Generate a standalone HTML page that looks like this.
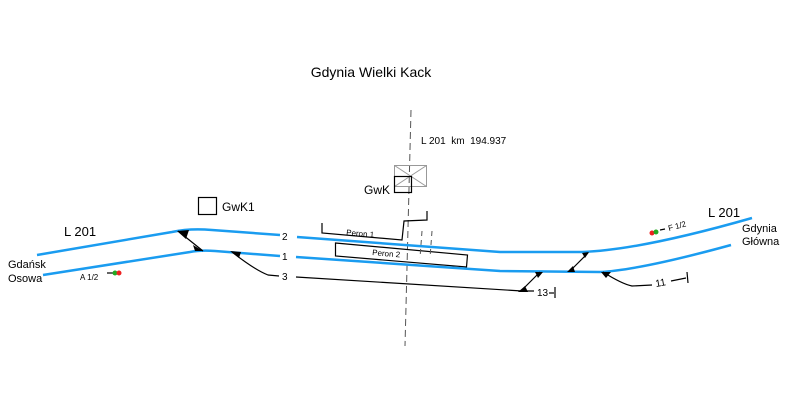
<!DOCTYPE html>
<html><head><meta charset="utf-8"><style>
html,body{margin:0;padding:0;background:#fff;}
svg{display:block;font-family:"Liberation Sans",sans-serif;}
</style></head><body>
<svg width="787" height="415" viewBox="0 0 787 415" xmlns="http://www.w3.org/2000/svg">
<rect width="787" height="415" fill="#fff"/>
<text x="371" y="77" font-size="14" text-anchor="middle" fill="#000">Gdynia Wielki Kack</text>
<line x1="411" y1="110" x2="405" y2="346" stroke="#555" stroke-width="1" stroke-dasharray="7,4"/>
<text x="421" y="144" font-size="10" fill="#000" xml:space="preserve">L 201  km  194.937</text>
<rect x="394.5" y="165.5" width="32" height="21" fill="none" stroke="#999" stroke-width="1"/>
<line x1="394.5" y1="165.5" x2="426.5" y2="186.5" stroke="#999"/>
<line x1="426.5" y1="165.5" x2="394.5" y2="186.5" stroke="#999"/>
<rect x="394.5" y="176.5" width="17" height="16" fill="none" stroke="#000" stroke-width="1.2"/>
<text x="364" y="194" font-size="12" fill="#000">GwK</text>
<rect x="198.5" y="197.5" width="18" height="17" fill="none" stroke="#000" stroke-width="1.2"/>
<text x="222" y="211" font-size="12" fill="#000">GwK1</text>
<polyline points="322,223 322,233 402,240 404,221 427,220 427,211" fill="none" stroke="#000" stroke-width="1.2"/>
<text x="346" y="235" font-size="8" fill="#000" transform="rotate(5 346 235)">Peron 1</text>
<polygon points="335.5,243 467.5,255 466.5,267 335.5,256" fill="none" stroke="#000" stroke-width="1.2"/>
<text x="372" y="255" font-size="8" fill="#000" transform="rotate(5 372 255)">Peron 2</text>
<line x1="422" y1="231" x2="420" y2="258" stroke="#555" stroke-dasharray="5,4"/>
<line x1="432" y1="231" x2="430" y2="258" stroke="#555" stroke-dasharray="5,4"/>
<g fill="none" stroke="#1a9cf0" stroke-width="2.5">
<path d="M37,255 L172,232 Q190,228 212,230 L280,235"/>
<path d="M297,237 L500,252 L582,252 Q640,250 752,218"/>
<path d="M43,275 L190,252 Q200,250 215,251 L280,256"/>
<path d="M296,257 L500,271 L600,272 Q640,270 731,245"/>
</g>
<g fill="none" stroke="#000" stroke-width="1.2">
<path d="M232,252 Q255,270 268,275 L279,276"/>
<path d="M296,277 L522,291 L534,291"/>
<line x1="178" y1="231" x2="203" y2="251"/>
<line x1="588" y1="253" x2="570" y2="271"/>
<line x1="540" y1="272" x2="522" y2="290"/>
<path d="M603,272 Q622,284 632,286 L652,285"/>
<line x1="549" y1="293" x2="554" y2="293"/>
<line x1="555" y1="287" x2="555" y2="298"/>
<line x1="671" y1="281" x2="686" y2="278"/>
<line x1="687" y1="272" x2="688" y2="283"/>
<line x1="107" y1="273" x2="116" y2="273"/>
<line x1="660" y1="230" x2="665" y2="229"/>
</g>
<g fill="#000">
<polygon points="177,231 189,230 186,239"/>
<polygon points="193,245 203,251 195,251"/>
<polygon points="230,251 241,252 239,258"/>
<polygon points="582,253 589,252 585,258"/>
<polygon points="567,272 575,272 573,266"/>
<polygon points="535,272 543,272 538,278"/>
<polygon points="518,292 528,292 525,286"/>
<polygon points="601,272 611,272 606,278"/>
</g>
<circle cx="115" cy="273" r="2.5" fill="#2a2"/>
<circle cx="119" cy="273" r="2.5" fill="#e22"/>
<circle cx="652" cy="233" r="2.5" fill="#e22"/>
<circle cx="656" cy="232" r="2.5" fill="#2a2"/>
<text x="80" y="280" font-size="8" fill="#000">A 1/2</text>
<text x="669" y="231" font-size="8" fill="#000" transform="rotate(-15 669 231)">F 1/2</text>
<text x="282" y="240" font-size="10" fill="#000">2</text>
<text x="282" y="260" font-size="10" fill="#000">1</text>
<text x="282" y="280" font-size="10" fill="#000">3</text>
<text x="537" y="296" font-size="10" fill="#000">13</text>
<text x="656" y="287" font-size="10" fill="#000" transform="rotate(-10 656 287)">11</text>
<text x="64" y="236" font-size="13" fill="#000">L 201</text>
<text x="708" y="217" font-size="13" fill="#000">L 201</text>
<text x="8" y="268" font-size="11" fill="#000">Gdańsk</text>
<text x="8" y="282" font-size="11" fill="#000">Osowa</text>
<text x="742" y="232" font-size="11" fill="#000">Gdynia</text>
<text x="742" y="245" font-size="11" fill="#000">Główna</text>
</svg>
</body></html>
